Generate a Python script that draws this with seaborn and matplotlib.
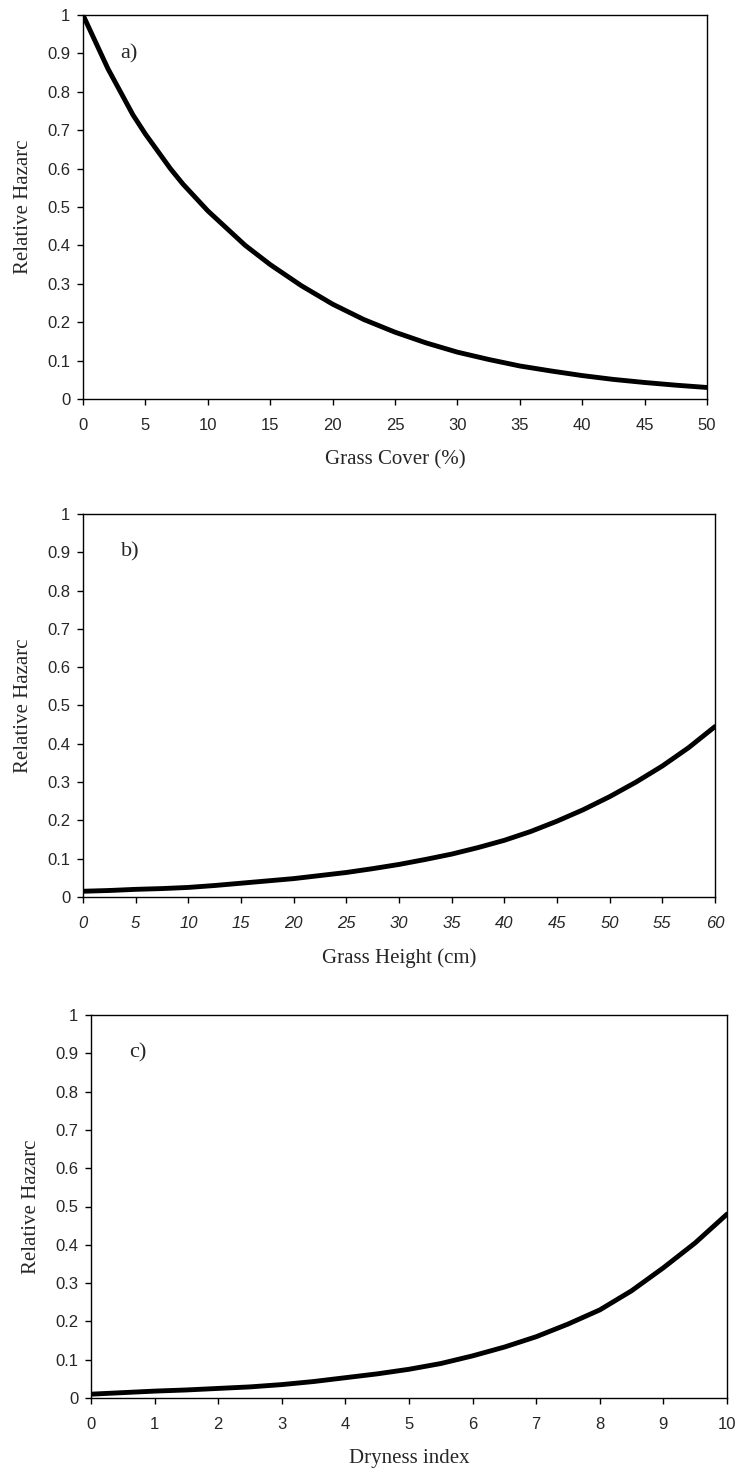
import matplotlib
matplotlib.use("Agg")
import matplotlib.pyplot as plt
import seaborn as sns
import pandas as pd

cover_x = [0, 1, 2, 3, 4, 5, 6, 7, 8, 9, 10, 11, 12, 13, 14, 15, 17.5, 20, 22.5, 25, 27.5,
           30, 32.5, 35, 37.5, 40, 42.5, 45, 47.5, 50]
cover_y = [1.0, 0.93, 0.86, 0.80, 0.74, 0.69, 0.645, 0.60, 0.56, 0.525, 0.49, 0.46, 0.43,
           0.40, 0.375, 0.35, 0.295, 0.247, 0.207, 0.174, 0.146, 0.122, 0.103, 0.086,
           0.073, 0.061, 0.051, 0.043, 0.036, 0.030]

height_x = [0, 2.5, 5, 7.5, 10, 12.5, 15, 17.5, 20, 22.5, 25, 27.5, 30, 32.5, 35, 37.5,
            40, 42.5, 45, 47.5, 50, 52.5, 55, 57.5, 60]
height_y = [0.015, 0.017, 0.02, 0.022, 0.025, 0.03, 0.036, 0.042, 0.048, 0.056, 0.064,
            0.074, 0.085, 0.098, 0.112, 0.129, 0.148, 0.171, 0.198, 0.228, 0.262, 0.300,
            0.342, 0.39, 0.445]

dry_x = [0, 0.5, 1, 1.5, 2, 2.5, 3, 3.5, 4, 4.5, 5, 5.5, 6, 6.5, 7, 7.5, 8, 8.5, 9, 9.5, 10]
dry_y = [0.01, 0.014, 0.018, 0.021, 0.025, 0.029, 0.035, 0.043, 0.053, 0.063, 0.075,
         0.09, 0.11, 0.133, 0.16, 0.193, 0.23, 0.28, 0.34, 0.405, 0.48]

panels = [
    (cover_x, cover_y, "Grass Cover (%)", "a)", 5, 50, False, [83, 15, 707, 399]),
    (height_x, height_y, "Grass Height (cm)", "b)", 5, 60, True, [83, 514, 715, 897]),
    (dry_x, dry_y, "Dryness index", "c)", 1, 10, False, [91, 1015, 727, 1398]),
]

sns.set_style("white")
W, H = 737, 1476
fig = plt.figure(figsize=(W / 100, H / 100), dpi=100)

for xs, ys, xlabel, tag, step, xmax, italic, (l, t, r, b) in panels:
    ax = fig.add_axes([l / W, 1 - b / H, (r - l) / W, (b - t) / H])
    df = pd.DataFrame({"x": xs, "y": ys})
    sns.lineplot(data=df, x="x", y="y", ax=ax, color="black", linewidth=3.5)
    ax.set_xlim(0, xmax)
    ax.set_ylim(0, 1)
    ax.set_xticks(list(range(0, xmax + 1, step)))
    ax.set_yticks([i / 10 for i in range(11)])
    ax.set_yticklabels(["0"] + [f"0.{i}" for i in range(1, 10)] + ["1"])
    for lab in ax.get_xticklabels() + ax.get_yticklabels():
        lab.set_family("Liberation Sans")
        lab.set_fontsize(12)
    if italic:
        for lab in ax.get_xticklabels():
            lab.set_style("italic")
    for s in ax.spines.values():
        s.set_color("black")
        s.set_linewidth(1.0)
    ax.tick_params(axis="both", direction="out", length=4, width=1, color="black",
                   bottom=True, left=True)
    ax.tick_params(axis="x", pad=10)
    ax.tick_params(axis="y", pad=5)
    ax.set_xlabel(xlabel, family="Liberation Serif", fontsize=15, labelpad=12)
    ax.set_ylabel("Relative Hazarc", family="Liberation Serif", fontsize=15, labelpad=10)
    ax.text(0.06, 0.90, tag, transform=ax.transAxes, family="Liberation Serif",
            fontsize=16, va="center")

fig.savefig("out.png", dpi=100)
